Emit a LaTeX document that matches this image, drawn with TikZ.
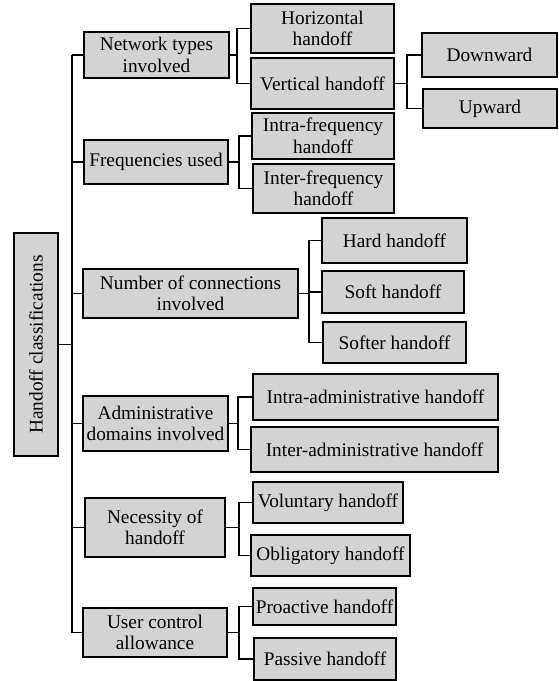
\documentclass[tikz,border=0pt]{standalone}
\usepackage{fontspec}
\setmainfont{Liberation Serif}
\definecolor{boxgray}{RGB}{211,211,211}
\begin{document}
\begin{tikzpicture}[x=1pt,y=-1pt,
  bx/.style={draw=black,fill=boxgray,line width=1.4pt,inner sep=0pt,align=center,
    font=\fontsize{19.3}{21.5}\selectfont},
  ln/.style={line width=1.4pt}]
\useasboundingbox (0,0) rectangle (558,681);
% root
\node[bx,rotate=90,minimum width=223pt,minimum height=44pt] (root) at (36,344.5) {Handoff classifications};
% level 1
\node[bx,minimum width=145pt,minimum height=46pt] (net) at (156.5,55) {Network types\\involved};
\node[bx,minimum width=144pt,minimum height=44pt] (frq) at (156,162) {Frequencies used};
\node[bx,minimum width=215pt,minimum height=49pt] (num) at (190.5,293.5) {Number of connections\\involved};
\node[bx,minimum width=145pt,minimum height=55pt] (adm) at (155.5,423.5) {Administrative\\domains involved};
\node[bx,minimum width=140pt,minimum height=59pt] (nec) at (155,527.5) {Necessity of\\handoff};
\node[bx,minimum width=144pt,minimum height=49pt] (usr) at (155,632.5) {User control\\allowance};
% level 2
\node[bx,minimum width=143pt,minimum height=49pt] (hor) at (322.5,28.5) {Horizontal\\handoff};
\node[bx,minimum width=143pt,minimum height=51pt] (ver) at (322.5,83.5) {Vertical handoff};
\node[bx,minimum width=135pt,minimum height=44pt] (down) at (489.5,55) {Downward};
\node[bx,minimum width=134pt,minimum height=39pt] (up) at (490,108.5) {Upward};
\node[bx,minimum width=142pt,minimum height=46pt] (intraf) at (323,136) {Intra-frequency\\handoff};
\node[bx,minimum width=141pt,minimum height=49pt] (interf) at (323.5,188.5) {Inter-frequency\\handoff};
\node[bx,minimum width=145pt,minimum height=45pt] (hard) at (394.5,240.5) {Hard handoff};
\node[bx,minimum width=142pt,minimum height=42pt] (soft) at (393,292) {Soft handoff};
\node[bx,minimum width=143pt,minimum height=41pt] (softer) at (394.5,342.5) {Softer handoff};
\node[bx,minimum width=245pt,minimum height=46pt] (intraa) at (375.5,397) {Intra-administrative handoff};
\node[bx,minimum width=247pt,minimum height=45pt] (intera) at (374.5,449.5) {Inter-administrative handoff};
\node[bx,minimum width=150pt,minimum height=41pt] (vol) at (328,502.5) {Voluntary handoff};
\node[bx,minimum width=159pt,minimum height=41pt] (obl) at (330.5,555.5) {Obligatory handoff};
\node[bx,minimum width=143pt,minimum height=37pt] (pro) at (324.5,606.5) {Proactive handoff};
\node[bx,minimum width=142pt,minimum height=42pt] (pas) at (325,659) {Passive handoff};
% bracket coordinates
\coordinate (sp) at (72,0);
\coordinate (bnet) at (237,0);
\coordinate (bfrq) at (239,0);
\coordinate (bver) at (407,0);
\coordinate (bnum) at (309,0);
\coordinate (badm) at (238,0);
\coordinate (bnec) at (239,0);
\coordinate (busr) at (239,0);
% spine
\draw[ln] (root.south) -- (root.south -| sp);
\draw[ln] (net.west -| sp) -- (usr.west -| sp);
\foreach \n in {net,frq,num,adm,nec,usr} \draw[ln] (\n.west) -- (\n.west -| sp);
% groups
\draw[ln] (net.east) -- (net.east -| bnet);
\draw[ln] (hor.west) -- (bnet |- hor.west) -- (bnet |- ver.west) -- (ver.west);
\draw[ln] (frq.east) -- (frq.east -| bfrq);
\draw[ln] (intraf.west) -- (bfrq |- intraf.west) -- (bfrq |- interf.west) -- (interf.west);
\draw[ln] (ver.east) -- (ver.east -| bver);
\draw[ln] (down.west) -- (bver |- down.west) -- (bver |- up.west) -- (up.west);
\draw[ln] (num.east) -- (num.east -| bnum);
\draw[ln] (hard.west) -- (bnum |- hard.west) -- (bnum |- softer.west) -- (softer.west);
\draw[ln] (soft.west) -- (bnum |- soft.west);
\draw[ln] (adm.east) -- (adm.east -| badm);
\draw[ln] (intraa.west) -- (badm |- intraa.west) -- (badm |- intera.west) -- (intera.west);
\draw[ln] (nec.east) -- (nec.east -| bnec);
\draw[ln] (vol.west) -- (bnec |- vol.west) -- (bnec |- obl.west) -- (obl.west);
\draw[ln] (usr.east) -- (usr.east -| busr);
\draw[ln] (pro.west) -- (busr |- pro.west) -- (busr |- pas.west) -- (pas.west);
\end{tikzpicture}
\end{document}
